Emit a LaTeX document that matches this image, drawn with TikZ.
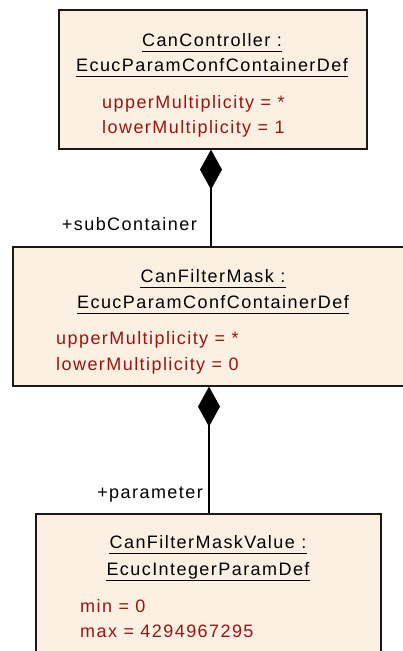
\documentclass[tikz,border=0pt]{standalone}
\usepackage{fontspec}
\setmainfont{Liberation Sans}[LetterSpace=8]
\usetikzlibrary{arrows.meta}
\definecolor{classfill}{RGB}{251,240,226}
\definecolor{attrred}{RGB}{160,18,18}
\tikzset{
  classbox/.style={draw=black!90, line width=1.6pt, fill=classfill, rectangle,
    anchor=north west, inner sep=0pt},
  title/.style={anchor=base, inner sep=0pt, text=black},
  attr/.style={anchor=base west, inner sep=0pt, text=attrred},
  role/.style={anchor=base east, inner sep=0pt, text=black},
  uline/.style={line width=1.4pt, black},
  compose/.style={line width=1.6pt, black, -{Diamond[length=40pt, width=22pt]}},
}
\newcommand{\ulinenode}[1]{\draw[uline] ([yshift=-5.5pt]#1.base west) -- ([yshift=-5.5pt]#1.base east);}
\begin{document}
\begin{tikzpicture}[x=1pt, y=-1pt, font=\fontsize{18}{22}\selectfont]
\useasboundingbox (0,0) rectangle (403,651);
\clip (0,0) rectangle (403,651);

% class boxes
\node[classbox, minimum width=308pt, minimum height=139pt] (b1) at (58,9) {};
\node[classbox, minimum width=402pt, minimum height=139pt] (b2) at (12,246) {};
\node[classbox, minimum width=345pt, minimum height=160pt] (b3) at (35,513) {};

% CanController
\node[title] (t11) at (212,46) {CanController :};
\node[title] (t12) at (212,71) {EcucParamConfContainerDef};
\ulinenode{t11}
\ulinenode{t12}
\node[attr] (a11) at (102,108) {upperMultiplicity = *};
\node[attr] (a12) at (102,133) {lowerMultiplicity = 1};

% CanFilterMask
\node[title] (t21) at (213,282) {CanFilterMask :};
\node[title] (t22) at (213,308) {EcucParamConfContainerDef};
\ulinenode{t21}
\ulinenode{t22}
\node[attr] (a21) at (56,344) {upperMultiplicity = *};
\node[attr] (a22) at (56,370) {lowerMultiplicity = 0};

% CanFilterMaskValue
\node[title] (t31) at (208,548) {CanFilterMaskValue :};
\node[title] (t32) at (208,575) {EcucIntegerParamDef};
\ulinenode{t31}
\ulinenode{t32}
\node[attr] (a31) at (80,612) {min = 0};
\node[attr] (a32) at (80,637) {max = 4294967295};

% composition connectors
\coordinate (c1) at (211,0);
\coordinate (c2) at (209,0);
\draw[compose] (b2.north -| c1) -- (b1.south -| c1);
\draw[compose] (b3.north -| c2) -- (b2.south -| c2);

% role names
\node[role] (r1) at (197,230) {+subContainer};
\node[role] (r2) at (203,498) {+parameter};
\end{tikzpicture}
\end{document}
